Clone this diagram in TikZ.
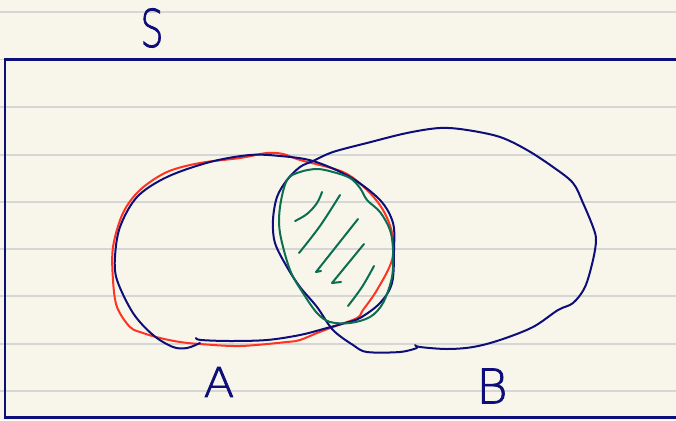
\documentclass[tikz,border=0pt]{standalone}
\usepackage{fontspec}
\newfontfamily\hand[FakeBold=1.6]{DejaVu Sans ExtraLight}
\definecolor{paper}{HTML}{F8F6EB}
\definecolor{rule}{HTML}{D6D6D6}
\definecolor{ink}{HTML}{0E0E7A}
\definecolor{redink}{HTML}{FF3322}
\definecolor{greenink}{HTML}{0B6E4E}
\tikzset{
  pen/.style={line width=2pt, line cap=round, line join=round},
  ruleline/.style={rule, line width=1.3pt},
  letter/.style={inner sep=0pt, text=ink, font=\hand},
}
\begin{document}
\begin{tikzpicture}[x=1pt,y=-1pt]
\useasboundingbox (0,0) rectangle (676,420);
\clip (0,0) rectangle (676,420);
\fill[paper] (0,0) rectangle (676,420);
\foreach \yy in {12,59.5,107,155,202,249,296,344,391}
  \draw[ruleline] (0,\yy) -- (676,\yy);
% universal set
\draw[ink, line width=2.5pt] (690,59.5) -- (5,59.5) -- (5,417.5) -- (690,417.5);
% labels
\node[letter, font=\hand\fontsize{52}{52}\selectfont, xscale=0.7] (S) at (152,28) {S};
\node[letter, font=\hand\fontsize{41}{41}\selectfont, xscale=1.1] (A) at (219,382) {A};
\node[letter, font=\hand\fontsize{48}{48}\selectfont] (B) at (492,386) {B};
% red outline of A
\draw[pen, redink] plot[smooth cycle, tension=0.55] coordinates {
 (167,172) (200,163) (240,158) (267,153) (283,154) (300,160) (343,172) (367,190)
 (383,210) (392,233) (392,260) (377,290) (363,310) (357,318) (333,327) (317,333)
 (300,340) (287,342) (240,346) (200,344) (180,342) (160,338) (143,333) (130,327)
 (117,307) (113,280) (113,247) (123,213) (140,190)};
% set A
\draw[pen, ink] plot[smooth, tension=0.55] coordinates {
 (196,338) (201,340) (230,341) (267,340) (300,335) (327,328) (345,323) (360,318)
 (380,303) (392,283) (394,250) (393,223) (380,200) (350,177) (313,161) (280,156)
 (250,155) (210,162) (167,177) (137,197) (120,227) (115,257) (117,280) (133,313)
 (153,335) (173,347) (187,348) (200,343)};
% set B
\draw[pen, ink] plot[smooth, tension=0.55] coordinates {
 (415,345) (420,347) (447,349) (473,347) (500,340) (533,327) (558,310) (573,303)
 (585,287) (593,260) (596,240) (593,227) (583,203) (573,183) (553,167) (527,150)
 (500,137) (467,130) (440,128) (407,133) (367,143) (333,152) (313,161) (300,167)
 (287,180) (277,197) (273,220) (275,243) (287,267) (300,287) (317,307) (333,330)
 (353,345) (367,352) (400,352) (417,348)};
% intersection
\draw[pen, greenink] plot[smooth cycle, tension=0.55] coordinates {
 (287,180) (300,172) (317,169) (333,172) (350,178) (360,188) (367,200) (380,212)
 (390,230) (393,250) (392,277) (383,303) (370,317) (350,323) (330,322) (317,313)
 (303,293) (290,270) (280,233) (280,207)};
% hatching
\draw[pen, greenink] plot[smooth, tension=0.6] coordinates {(295,221) (307,214) (317,203) (322,192)};
\draw[pen, greenink] plot[smooth, tension=0.6] coordinates {(299,253) (320,226) (340,195)};
\draw[pen, greenink] (358,219) -- (316,272) -- (321,271);
\draw[pen, greenink] (364,244) -- (332,283) -- (341,282);
\draw[pen, greenink] plot[smooth, tension=0.6] coordinates {(374,266) (362,287) (348,306)};
\end{tikzpicture}
\end{document}
